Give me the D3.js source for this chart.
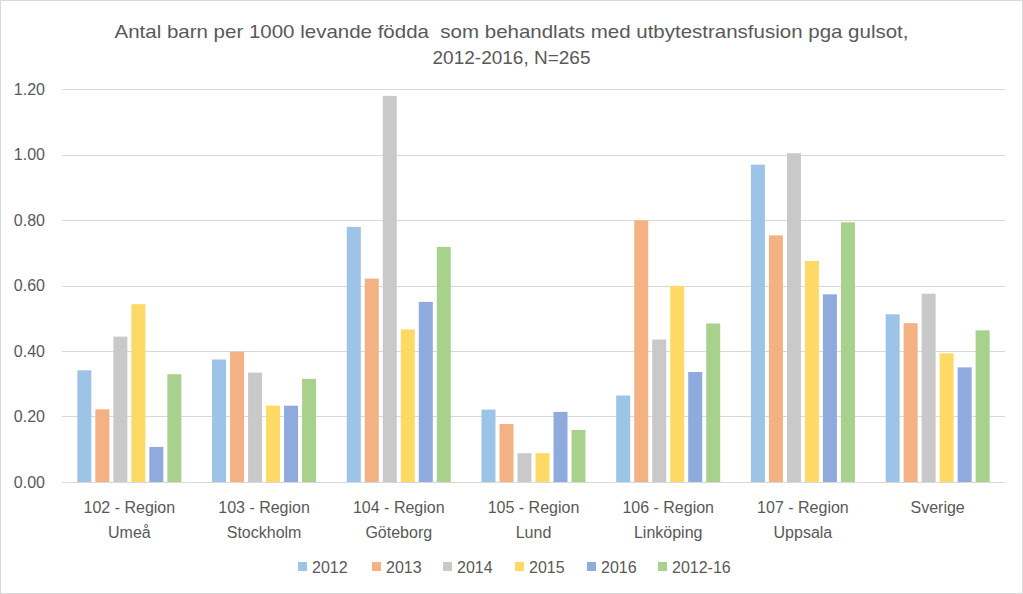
<!DOCTYPE html>
<html><head><meta charset="utf-8">
<script src="https://cdn.jsdelivr.net/npm/d3@7"></script>
<style>
html,body{margin:0;padding:0;background:#fff;}
svg{display:block;font-family:"Liberation Sans Narrow","Liberation Sans",Arial,sans-serif;}
</style></head><body>
<script>
const categories = [["102 - Region","Umeå"],["103 - Region","Stockholm"],["104 - Region","Göteborg"],["105 - Region","Lund"],["106 - Region","Linköping"],["107 - Region","Uppsala"],["Sverige"]];
const series = ["2012","2013","2014","2015","2016","2012-16"];
const v2012   = [0.341,0.374,0.779,0.221,0.264,0.969,0.512];
const v2013   = [0.222,0.398,0.621,0.177,0.799,0.753,0.485];
const v2014   = [0.444,0.334,1.179,0.088,0.435,1.004,0.575];
const v2015   = [0.543,0.233,0.466,0.088,0.599,0.675,0.393];
const v2016   = [0.107,0.233,0.550,0.214,0.336,0.573,0.350];
const v201216 = [0.329,0.315,0.718,0.159,0.484,0.793,0.463];
const yTicks = [0,0.2,0.4,0.6,0.8,1.0,1.2];
const colors = ["#9DC3E6","#F4B183","#C9C9C9","#FFD966","#8FAADC","#A9D18E"];
const values = [v2012,v2013,v2014,v2015,v2016,v201216];

const W=1023,H=594;
const svg=d3.select("body").append("svg").attr("width",W).attr("height",H);
svg.append("rect").attr("x",0.5).attr("y",0.5).attr("width",W-1).attr("height",H-1).attr("fill","#fff").attr("stroke","#d9d9d9");

const pLeft=62,pRight=1005,pTop=89,pBottom=482;
const catKeys=categories.map((c,i)=>i);
const x0=d3.scaleBand().domain(catKeys).range([pLeft,pRight]).paddingInner(0).paddingOuter(0);
const x1=d3.scaleBand().domain(series).range([0,x0.bandwidth()]).paddingInner(0.222).paddingOuter(0.853);
const y=d3.scaleLinear().domain([0,1.2]).range([pBottom,pTop]);

// gridlines
svg.append("g").selectAll("line").data(yTicks).join("line")
  .attr("x1",pLeft).attr("x2",pRight)
  .attr("y1",d=>Math.round(y(d))+0.5).attr("y2",d=>Math.round(y(d))+0.5)
  .attr("stroke","#d9d9d9").attr("stroke-width",1);

// y labels
svg.append("g").selectAll("text").data(yTicks).join("text")
  .attr("x",45).attr("y",d=>y(d)).attr("dy","0.35em")
  .attr("text-anchor","end").attr("fill","#595959").attr("font-size",16)
  .text(d=>d3.format(".2f")(d));

// bars
const g=svg.append("g");
series.forEach((s,si)=>{
  g.append("g").selectAll("rect").data(values[si]).join("rect")
   .attr("x",(d,i)=>x0(i)+x1(s))
   .attr("width",x1.bandwidth())
   .attr("y",d=>y(d))
   .attr("height",d=>y(0)-y(d))
   .attr("fill",colors[si]);
});

// category labels
const cl=svg.append("g");
categories.forEach((c,i)=>{
  const t=cl.append("text").attr("text-anchor","middle").attr("fill","#595959").attr("font-size",16)
    .attr("x",x0(i)+x0.bandwidth()/2).attr("y",513);
  c.forEach((line,li)=>{
    t.append("tspan").attr("x",x0(i)+x0.bandwidth()/2).attr("y",513+li*25).text(line);
  });
});

// legend
const lg=svg.append("g");
const legX=[298,372,443,515,587,658];
series.forEach((s,si)=>{
  lg.append("rect").attr("x",legX[si]).attr("y",562).attr("width",9).attr("height",9).attr("fill",colors[si]);
  lg.append("text").attr("x",legX[si]+14).attr("y",567).attr("dy","0.35em")
    .attr("fill","#595959").attr("font-size",16).text(s);
});

// title
svg.append("text").attr("x",W/2).attr("y",38).attr("text-anchor","middle").attr("fill","#595959").attr("font-size",19)
  .style("white-space","pre")
  .attr("textLength",794).attr("lengthAdjust","spacingAndGlyphs")
  .text("Antal barn per 1000 levande födda  som behandlats med utbytestransfusion pga gulsot,");
svg.append("text").attr("x",W/2).attr("y",64).attr("text-anchor","middle").attr("fill","#595959").attr("font-size",19)
  .text("2012-2016, N=265");
</script>
</body></html>
